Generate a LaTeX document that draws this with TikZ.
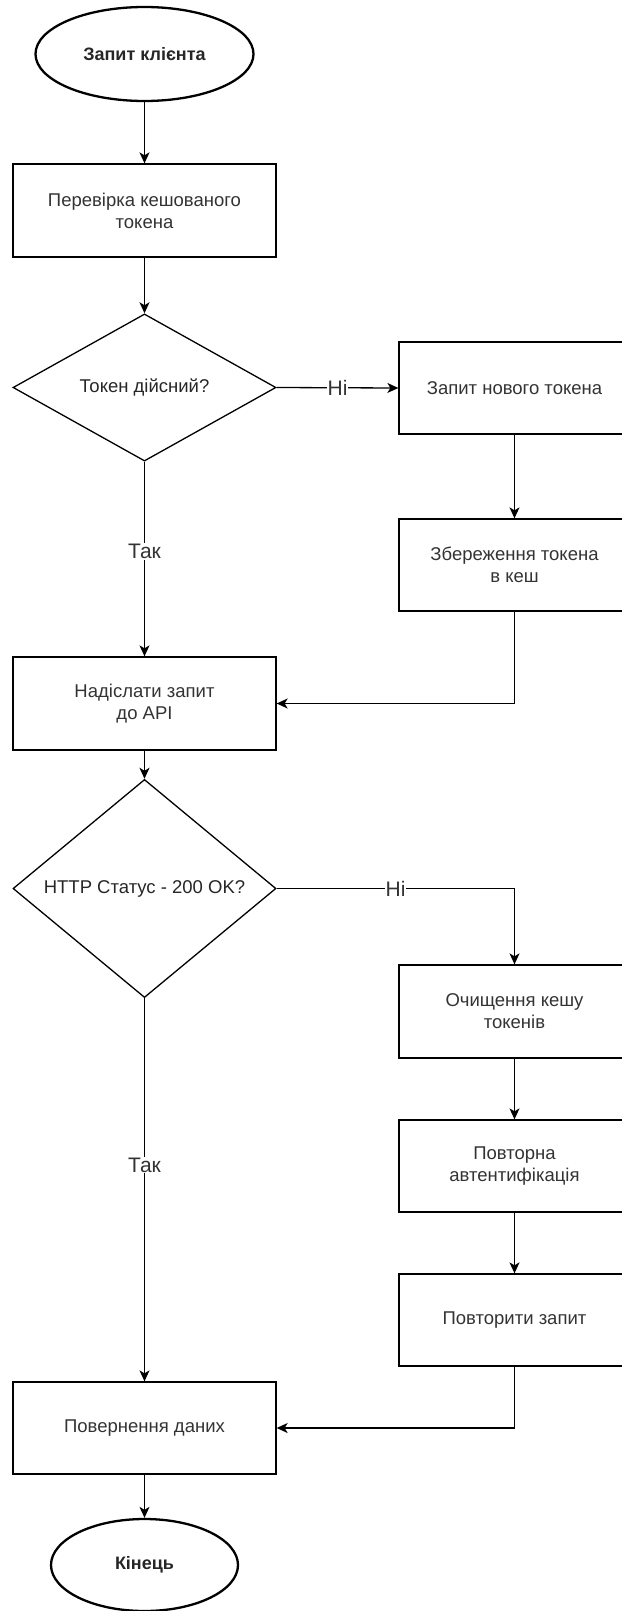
\documentclass[tikz,border=0pt]{standalone}
\usepackage{fontspec}
\setmainfont{Liberation Sans}
\usetikzlibrary{shapes.geometric,arrows.meta}
\begin{document}
\begin{tikzpicture}[x=1pt,y=-1pt,
  terminal/.style={ellipse,draw,line width=2.3pt,inner sep=0pt,text=black!85,
    font=\fontsize{18}{21}\selectfont\bfseries},
  process/.style={rectangle,draw,line width=1.3pt,inner sep=0pt,align=center,text=black!80,
    minimum height=92pt,font=\fontsize{18.5}{22}\selectfont},
  decision/.style={diamond,draw,line width=1.3pt,inner sep=0pt,align=center,text=black!85,
    minimum width=263pt,font=\fontsize{18.5}{22}\selectfont},
  flow/.style={line width=1.3pt,-{Stealth[length=11pt,width=10pt,inset=3pt]}},
  lbl/.style={fill=white,inner sep=1pt,text=black!80,font=\fontsize{21}{24}\selectfont}
]
\useasboundingbox (0,0) rectangle (621,1611);

% main column
\node[terminal,minimum width=218pt,minimum height=94pt] (start) at (144.5,54) {Запит клієнта};
\node[process,minimum width=263pt,minimum height=93pt] (check) at (144.5,210.5) {Перевірка кешованого\\токена};
\node[decision,minimum height=137pt] (valid) at (144.5,387.5) {Токен дійсний?};
\node[process,minimum width=263pt,minimum height=93pt] (send) at (144.5,703.5) {Надіслати запит\\до API};
\node[decision,minimum height=153pt] (http) at (144.5,888.5) {HTTP Статус - 200 OK?};
\node[process,minimum width=263pt] (ret) at (144.5,1428) {Повернення даних};
\node[terminal,minimum width=187pt,minimum height=92pt] (end) at (144.5,1565) {Кінець};

% right column
\node[process,minimum width=231pt] (newtok) at (514.5,388) {Запит нового токена};
\node[process,minimum width=231pt] (save) at (514.5,565) {Збереження токена\\в кеш};
\node[process,minimum width=231pt,minimum height=93pt] (clear) at (514.5,1011.5) {Очищення кешу\\токенів};
\node[process,minimum width=231pt] (reauth) at (514.5,1166) {Повторна\\автентифікація};
\node[process,minimum width=231pt] (retry) at (514.5,1320) {Повторити запит};

% connectors
\draw[flow] (start) -- (check);
\draw[flow] (check) -- (valid);
\draw[flow] (valid.east) -- node[lbl] {Ні} (newtok.west);
\draw[flow] (valid.south) -- node[lbl,pos=0.46] {Так} (send.north);
\draw[flow] (newtok) -- (save);
\draw[flow] (save.south) |- (send.east);
\draw[flow] (send) -- (http);
\draw[flow] (http.east) -- node[lbl] {Ні} (http.east -| clear.north) -- (clear.north);
\draw[flow] (http.south) -- node[lbl,pos=0.435] {Так} (ret.north);
\draw[flow] (clear) -- (reauth);
\draw[flow] (reauth) -- (retry);
\draw[flow] (retry.south) |- (ret.east);
\draw[flow] (ret) -- (end);
\end{tikzpicture}
\end{document}
